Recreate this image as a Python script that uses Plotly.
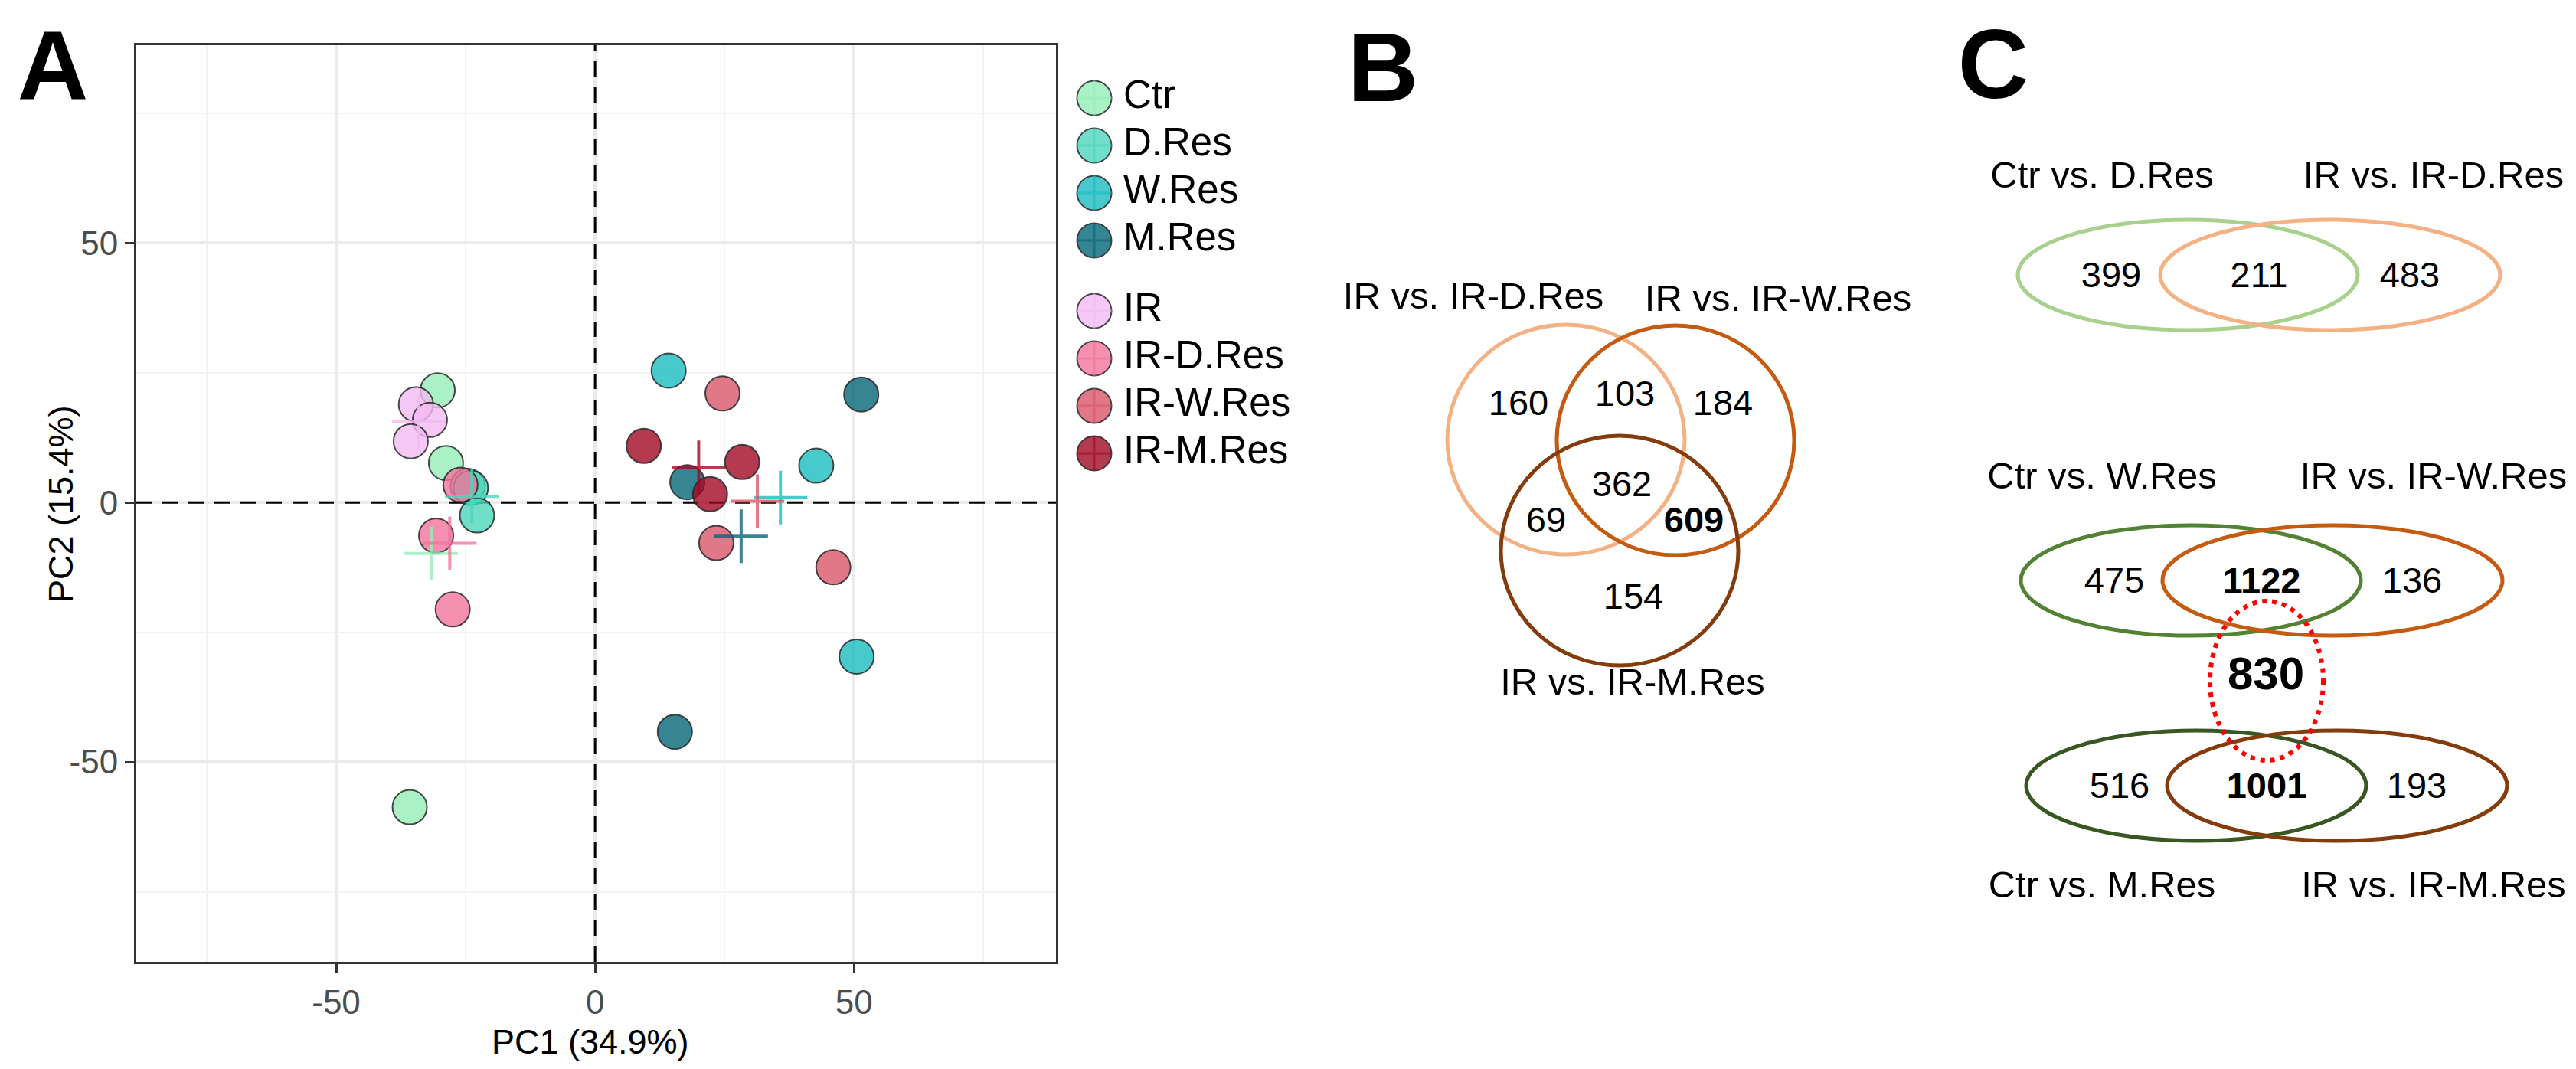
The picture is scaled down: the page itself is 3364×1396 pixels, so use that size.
import plotly.graph_objects as go

# ---- panel A: PCA scores, 3 samples per group ----
groups = ["Ctr", "D.Res", "W.Res", "M.Res", "IR", "IR-D.Res", "IR-W.Res", "IR-M.Res"]
pc1_scores = [
    [-30.4, -28.8, -35.8],
    [-24.6, -24.0, -22.8],
    [14.2, 42.7, 50.5],
    [51.4, 17.8, 15.4],
    [-34.6, -31.9, -35.6],
    [-26.0, -30.7, -27.5],
    [24.6, 23.4, 46.0],
    [9.4, 28.4, 22.2],
]
pc2_scores = [
    [21.6, 7.6, -58.7],
    [3.2, 2.8, -2.5],
    [25.4, 7.1, -29.7],
    [20.8, 3.9, -44.2],
    [18.9, 15.9, 11.8],
    [3.4, -6.4, -20.6],
    [21.0, -7.8, -12.5],
    [10.9, 7.8, 1.6],
]
group_colors = ["#95efb8", "#4cd6ba", "#1abbbf", "#056678",
                "#f2baf2", "#f2749c", "#d8566a", "#a10924"]
pc_ticks = [-50, 0, 50]
pc_tick_text = ["-50", "0", "50"]
pc_range_x = [-88.6, 89.0]
pc_range_y = [-88.5, 88.1]

# ---- panel B: 3-way Venn ----
venn_b_sets = ["IR vs. IR-D.Res", "IR vs. IR-W.Res", "IR vs. IR-M.Res"]
# regions: D only, D&W, W only, all, D&M, W&M, M only
venn_b_counts = [160, 103, 184, 362, 69, 609, 154]
venn_b_bold = [609]

# ---- panel C: three 2-way Venns ----
c_ctr_sets = ["Ctr vs. D.Res", "Ctr vs. W.Res", "Ctr vs. M.Res"]
c_ir_sets = ["IR vs. IR-D.Res", "IR vs. IR-W.Res", "IR vs. IR-M.Res"]
c_ctr_only = [399, 475, 516]
c_shared = [211, 1122, 1001]
c_ir_only = [483, 136, 193]
c_bold = [1122, 1001]
c_core = 830

W, H = 3364, 1396
FONT = "Liberation Sans, Arial, sans-serif"


def rgba(hexcol, a):
    h = hexcol.lstrip("#")
    r, g, b = (int(h[i:i + 2], 16) for i in (0, 2, 4))
    return f"rgba({r},{g},{b},{a})"


def fmt(v, bold):
    return f"<b>{v}</b>" if v in bold else str(v)


fig = go.Figure()

# dashed zero lines (as traces so they sit above the grid)
zero_line = dict(color="black", width=3, dash="20px,14px")
fig.add_trace(go.Scatter(x=[0, 0], y=pc_range_y, mode="lines", line=zero_line,
                         hoverinfo="skip"))
fig.add_trace(go.Scatter(x=pc_range_x, y=[0, 0], mode="lines", line=zero_line,
                         hoverinfo="skip"))

# scatter points
for g, xs, ys, col in zip(groups, pc1_scores, pc2_scores, group_colors):
    fig.add_trace(go.Scatter(
        x=xs, y=ys, mode="markers", name=g,
        marker=dict(size=45, color=rgba(col, 0.8),
                    line=dict(color="rgba(40,40,40,0.85)", width=2)),
    ))

# group centroids (crosses)
for g, xs, ys, col in zip(groups, pc1_scores, pc2_scores, group_colors):
    fig.add_trace(go.Scatter(
        x=[sum(xs) / len(xs)], y=[sum(ys) / len(ys)], mode="markers",
        name=g + " centroid",
        marker=dict(symbol="cross-thin", size=50, color=rgba(col, 0.8),
                    line=dict(color=rgba(col, 0.8), width=4)),
    ))

# hand-made legend (plotly caps legend symbol size)
leg_x = 1421
leg_y = [120 + 62 * i + (30 if i >= 4 else 0) for i in range(len(groups))]
fig.add_trace(go.Scatter(
    x=[leg_x] * len(groups), y=leg_y, mode="markers", xaxis="x2", yaxis="y2",
    marker=dict(size=45, color=[rgba(c, 0.8) for c in group_colors],
                line=dict(color="rgba(40,40,40,0.85)", width=2)),
))
fig.add_trace(go.Scatter(
    x=[leg_x] * len(groups), y=leg_y, mode="markers", xaxis="x2", yaxis="y2",
    marker=dict(symbol="cross-thin", size=32,
                line=dict(color=[rgba(c, 0.6) for c in group_colors], width=3)),
))
fig.add_trace(go.Scatter(
    x=[leg_x + 38] * len(groups), y=leg_y, mode="text", text=groups,
    textposition="middle right", textfont=dict(size=51, color="black", family=FONT),
    xaxis="x2", yaxis="y2",
))

shapes = []

# ---- panel B geometry (pixel space of the overlay axis) ----
b_circles = [(2037, 566), (2180, 567), (2107, 711)]
b_colors = ["#f4b183", "#c55a11", "#843c0c"]
b_rx, b_ry = 155, 150
for (cx, cy), col in zip(b_circles, b_colors):
    shapes.append(dict(type="circle", xref="x2", yref="y2",
                       x0=cx - b_rx, x1=cx + b_rx, y0=cy - b_ry, y1=cy + b_ry,
                       line=dict(color=col, width=5)))
b_num_pos = [(1975, 522), (2114, 510), (2242, 522), (2110, 628),
             (2011, 675), (2204, 675), (2125, 775)]
fig.add_trace(go.Scatter(
    x=[p[0] for p in b_num_pos], y=[p[1] for p in b_num_pos], mode="text",
    text=[fmt(v, venn_b_bold) for v in venn_b_counts], textposition="middle center",
    textfont=dict(size=47, color="black", family=FONT), xaxis="x2", yaxis="y2",
))
b_lab_pos = [(1916, 383), (2314, 386), (2124, 887)]
fig.add_trace(go.Scatter(
    x=[p[0] for p in b_lab_pos], y=[p[1] for p in b_lab_pos], mode="text",
    text=venn_b_sets, textposition="middle center",
    textfont=dict(size=49, color="black", family=FONT), xaxis="x2", yaxis="y2",
))

# ---- panel C geometry ----
c_rows = [351, 750, 1018]
c_left_x = [2849, 2853, 2860]
c_right_x = [3035, 3038, 3044]
c_rx, c_ry = 222, 72
c_green = ["#a9d18e", "#548235", "#385723"]
c_orange = ["#f4b183", "#c55a11", "#843c0c"]
c_label_y = [225, 618, 1152]
for i, cy in enumerate(c_rows):
    for cx, col in ((c_left_x[i], c_green[i]), (c_right_x[i], c_orange[i])):
        shapes.append(dict(type="circle", xref="x2", yref="y2",
                           x0=cx - c_rx, x1=cx + c_rx, y0=cy - c_ry, y1=cy + c_ry,
                           line=dict(color=col, width=5)))
shapes.append(dict(type="circle", xref="x2", yref="y2",
                   x0=2952 - 74, x1=2952 + 74, y0=881 - 104, y1=881 + 104,
                   line=dict(color="#ff0000", width=6, dash="6px,7px")))

num_x, num_y, num_t = [], [], []
for i, cy in enumerate(c_rows):
    for x_off, v in ((c_left_x[i] - 100, c_ctr_only[i]),
                     ((c_left_x[i] + c_right_x[i]) / 2, c_shared[i]),
                     (c_right_x[i] + 104, c_ir_only[i])):
        num_x.append(x_off)
        num_y.append(cy + 4)
        num_t.append(fmt(v, c_bold))
fig.add_trace(go.Scatter(
    x=num_x, y=num_y, mode="text", text=num_t, textposition="middle center",
    textfont=dict(size=47, color="black", family=FONT), xaxis="x2", yaxis="y2",
))
fig.add_trace(go.Scatter(
    x=[2951], y=[877], mode="text", text=[f"<b>{c_core}</b>"],
    textposition="middle center", textfont=dict(size=60, color="black", family=FONT),
    xaxis="x2", yaxis="y2",
))
fig.add_trace(go.Scatter(
    x=[2737] * 3 + [3170] * 3, y=c_label_y * 2, mode="text",
    text=c_ctr_sets + c_ir_sets, textposition="middle center",
    textfont=dict(size=49, color="black", family=FONT), xaxis="x2", yaxis="y2",
))

# panel letters
fig.add_trace(go.Scatter(
    x=[61, 1798, 2595], y=[90, 92, 88], mode="text",
    text=["<b>A</b>", "<b>B</b>", "<b>C</b>"], textposition="middle center",
    textfont=dict(size=128, color="black", family=FONT), xaxis="x2", yaxis="y2",
))

axis_common = dict(
    tickvals=pc_ticks, ticktext=pc_tick_text, ticks="outside", ticklen=12, tickwidth=3,
    tickcolor="#333333",
    showline=True, linecolor="#333333", linewidth=3, mirror=True,
    showgrid=True, gridcolor="#ebebeb", gridwidth=4, zeroline=False,
    minor=dict(tickvals=[-75, -25, 25, 75], showgrid=True, gridcolor="#f3f3f3", gridwidth=2),
    tickfont=dict(size=44, color="#4d4d4d", family=FONT),
)

fig.update_layout(
    width=W, height=H, margin=dict(l=0, r=0, t=0, b=0),
    paper_bgcolor="white", plot_bgcolor="rgba(0,0,0,0)",
    font=dict(family=FONT, color="black"), showlegend=False,
    xaxis=dict(domain=[170 / W, 1371 / W], range=pc_range_x, anchor="y", **axis_common),
    yaxis=dict(domain=[1 - 1248 / H, 1 - 51 / H], range=pc_range_y, anchor="x", **axis_common),
    xaxis2=dict(domain=[0, 1], range=[0, W], visible=False, anchor="y2"),
    yaxis2=dict(domain=[0, 1], range=[H, 0], visible=False, anchor="x2"),
    shapes=shapes,
    annotations=[
        dict(text="PC1 (34.9%)", xref="paper", yref="paper", x=763 / W, y=1 - 1352 / H,
             showarrow=False, font=dict(size=45, color="black", family=FONT),
             xanchor="center", yanchor="middle"),
        dict(text="PC2 (15.4%)", xref="paper", yref="paper", x=71 / W, y=1 - 650 / H,
             showarrow=False, textangle=-90, font=dict(size=45, color="black", family=FONT),
             xanchor="center", yanchor="middle"),
    ],
)

fig.write_html("out.html")
